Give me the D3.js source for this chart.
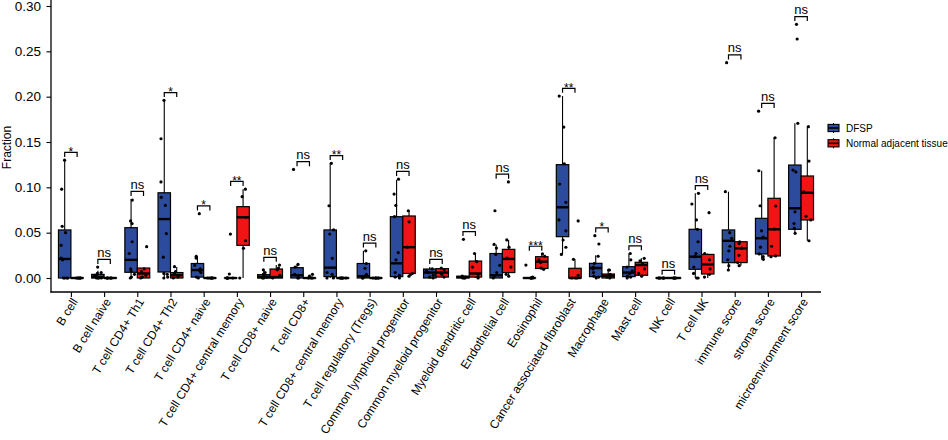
<!DOCTYPE html>
<html>
<head>
<meta charset="utf-8">
<script src="https://cdn.jsdelivr.net/npm/d3@7"></script>
<style>
  body { margin: 0; background: #fff; }
  text { font-family: "Liberation Sans", Arial, Helvetica, sans-serif; fill: #000; }
</style>
</head>
<body>
<svg id="svg" width="948" height="440"></svg>
<script>
// ---- data ----
const categories = ["B cell", "B cell naive", "T cell CD4+ Th1", "T cell CD4+ Th2", "T cell CD4+ naive",
  "T cell CD4+ central memory", "T cell CD8+ naive", "T cell CD8+", "T cell CD8+ central memory",
  "T cell regulatory (Tregs)", "Common lymphoid progenitor", "Common myeloid progenitor",
  "Myeloid dendritic cell", "Endothelial cell", "Eosinophil", "Cancer associated fibroblast",
  "Macrophage", "Mast cell", "NK cell", "T cell NK", "immune score", "stroma score", "microenvironment score"];

const groups = ["DFSP", "Normal adjacent tissue"];

// box stats per category: [whisker low, q1, median, q3, whisker high]
const dfspBox = [
  [0, 0, 0.021, 0.053, 0.130], [0, 0, 0.001, 0.004, 0.008], [0, 0.0063, 0.020, 0.0555, 0.087],
  [0, 0.0066, 0.065, 0.094, 0.196], [0, 0.001, 0.0088, 0.016, 0.024], [0, 0, 0, 0, 0],
  [0, 0, 0.001, 0.0037, 0.009], [0, 0, 0.003, 0.0114, 0.015], [0, 0.0015, 0.0114, 0.053, 0.1265],
  [0, 0, 0.002, 0.016, 0.030], [0, 0.0015, 0.0162, 0.0676, 0.108], [0, 0, 0.006, 0.0099, 0.012],
  [0, 0, 0.001, 0.002, 0.003], [0, 0, 0.003, 0.027, 0.037], [0, 0, 0, 0, 0],
  [0.026, 0.0456, 0.078, 0.125, 0.2007], [0, 0.0015, 0.011, 0.0162, 0.025], [0, 0.0015, 0.006, 0.0125, 0.027],
  [0, 0, 0, 0, 0], [0, 0.0096, 0.0235, 0.0537, 0.0934], [0.0088, 0.0169, 0.041, 0.053, 0.0952],
  [0.020, 0.0265, 0.0438, 0.0658, 0.1183], [0.0493, 0.0537, 0.0769, 0.1246, 0.1706]
];
const normalBox = [
  [0, 0, 0, 0, 0], [0, 0, 0, 0, 0], [0, 0, 0.005, 0.011, 0.011],
  [0, 0, 0.003, 0.006, 0.012], [0, 0, 0, 0, 0], [0, 0.036, 0.067, 0.0787, 0.098],
  [0, 0, 0.001, 0.0099, 0.0143], [0, 0, 0, 0, 0], [0, 0, 0, 0, 0],
  [0, 0, 0, 0, 0], [0.004, 0.005, 0.034, 0.0684, 0.0742], [0.001, 0.001, 0.006, 0.0103, 0.011],
  [0, 0.001, 0.005, 0.0187, 0.027], [0.002, 0.006, 0.021, 0.0316, 0.042], [0.0096, 0.0105, 0.018, 0.0235, 0.0265],
  [0, 0, 0, 0.0107, 0.0206], [0, 0, 0.0025, 0.0044, 0.0088], [0.002, 0.003, 0.0143, 0.0173, 0.0217],
  [0, 0, 0, 0, 0], [0, 0.0044, 0.015, 0.026, 0.027], [0.0136, 0.017, 0.0327, 0.040, 0.040],
  [0.0235, 0.0243, 0.0537, 0.0879, 0.1547], [0.0411, 0.064, 0.094, 0.1125, 0.1669]
];

// sample values (jittered dots)
const dfspPts = [
  [0.130, 0.098, 0.057, 0.050, 0.036, 0.022, 0.020, 0, 0, 0, 0],
  [0.012, 0.006, 0.005, 0.003, 0.002, 0.001, 0, 0, 0, 0],
  [0.086, 0.063, 0.060, 0.040, 0.027, 0.010, 0.008, 0.004, 0.001, 0],
  [0.196, 0.1536, 0.106, 0.089, 0.080, 0.049, 0.023, 0.005, 0.004, 0.001, 0],
  [0.071, 0.024, 0.022, 0.014, 0.010, 0.008, 0.006, 0.001, 0],
  [0.0485, 0.0044, 0, 0, 0, 0, 0, 0],
  [0.009, 0.006, 0.004, 0.002, 0.001, 0, 0],
  [0.1198, 0.015, 0.012, 0.004, 0.001, 0, 0],
  [0.1265, 0.0797, 0.053, 0.0485, 0.0217, 0.006, 0.004, 0.001, 0, 0],
  [0.030, 0.016, 0.0107, 0.004, 0.002, 0.001, 0, 0],
  [0.109, 0.0926, 0.080, 0.0676, 0.028, 0.020, 0.006, 0.003, 0.001, 0],
  [0.010, 0.008, 0.006, 0.003, 0.001, 0],
  [0.0427, 0.002, 0.001, 0.001, 0, 0, 0],
  [0.0742, 0.037, 0.033, 0.026, 0.014, 0.006, 0.002, 0],
  [0.0143, 0.001, 0, 0, 0, 0],
  [0.2007, 0.1665, 0.126, 0.1037, 0.0835, 0.064, 0.052, 0.0419, 0.0339, 0.026],
  [0.0467, 0.0375, 0.024, 0.016, 0.012, 0.010, 0.006, 0.002, 0.001, 0],
  [0.027, 0.020, 0.012, 0.008, 0.005, 0.002, 0.001, 0],
  [0, 0, 0, 0, 0, 0],
  [0.0934, 0.0816, 0.064, 0.0537, 0.040, 0.027, 0.0235, 0.012, 0.005, 0, 0],
  [0.2375, 0.0952, 0.050, 0.0438, 0.035, 0.030, 0.020, 0.0136, 0.0088],
  [0.184, 0.1183, 0.0797, 0.052, 0.045, 0.034, 0.0265, 0.0235, 0.0206],
  [0.2798, 0.2636, 0.1706, 0.119, 0.117, 0.073, 0.060, 0.055, 0.0493]
];
const normalPts = [
  [0, 0, 0, 0, 0, 0],
  [0, 0, 0, 0, 0, 0],
  [0.0345, 0.010, 0.007, 0.003, 0.001, 0],
  [0.0125, 0.007, 0.005, 0.003, 0.001, 0],
  [0, 0, 0, 0, 0, 0],
  [0.098, 0.0897, 0.067, 0.0411, 0.0327, 0],
  [0.0143, 0.011, 0.009, 0.003, 0],
  [0.004, 0.002, 0, 0, 0],
  [0, 0, 0, 0, 0, 0],
  [0, 0, 0, 0, 0, 0],
  [0.0742, 0.062, 0.034, 0.005, 0.004, 0.002],
  [0.011, 0.009, 0.006, 0.004, 0.001],
  [0.027, 0.018, 0.012, 0.004, 0.001, 0],
  [0.106, 0.042, 0.034, 0.022, 0.012, 0.004, 0.002],
  [0.0265, 0.024, 0.020, 0.017, 0.011, 0.0096],
  [0.063, 0.0206, 0.003, 0, 0, 0],
  [0.0088, 0.0088, 0.004, 0.002, 0.001, 0],
  [0.0217, 0.019, 0.016, 0.010, 0.005, 0.002],
  [0, 0, 0, 0, 0],
  [0.072, 0.027, 0.020, 0.010, 0.004, 0.001],
  [0.040, 0.038, 0.033, 0.025, 0.017, 0.0136],
  [0.1547, 0.0794, 0.054, 0.035, 0.0243, 0.0235],
  [0.1669, 0.129, 0.095, 0.068, 0.064, 0.0411]
];

const sigLabels = ["*", "ns", "ns", "*", "*", "**", "ns", "ns", "**", "ns", "ns", "ns",
  "ns", "ns", "***", "**", "*", "ns", "ns", "ns", "ns", "ns", "ns"];

const yTicks = [0, 0.05, 0.10, 0.15, 0.20, 0.25, 0.30];

// ---- layout ----
const colors = ["#2D4B9D", "#F01414"];
const plotLeft = 51, plotRight = 821, plotTop = 0, plotBottom = 292;

const svg = d3.select("#svg");

const x = d3.scalePoint().domain(categories).range([plotLeft, plotRight]).padding(0.6);
const y = d3.scaleLinear().domain([0, 0.30]).range([278, 6]);
const boxW = x.step() * 0.375;
const jitter = d3.randomUniform.source(d3.randomLcg(0.37))(-3.6, 3.6);

// boxes
const boxData = [];
categories.forEach((c, i) => {
  boxData.push({ c, g: 0, s: dfspBox[i], pts: dfspPts[i] });
  boxData.push({ c, g: 1, s: normalBox[i], pts: normalPts[i] });
});
const cx = d => x(d.c) + (d.g === 0 ? -boxW / 2 : boxW / 2);

const gBox = svg.append("g").selectAll("g").data(boxData).join("g");

gBox.append("line")
  .attr("x1", cx).attr("x2", cx)
  .attr("y1", d => y(d.s[0])).attr("y2", d => y(d.s[4]))
  .attr("stroke", "#000").attr("stroke-width", 1.1);

gBox.append("rect")
  .attr("x", d => cx(d) - boxW / 2)
  .attr("width", boxW)
  .attr("y", d => y(d.s[3]))
  .attr("height", d => Math.max(0.01, y(d.s[1]) - y(d.s[3])))
  .attr("fill", d => colors[d.g])
  .attr("stroke", "#000").attr("stroke-width", 1.2);

gBox.append("line")
  .attr("x1", d => cx(d) - boxW / 2).attr("x2", d => cx(d) + boxW / 2)
  .attr("y1", d => y(d.s[2])).attr("y2", d => y(d.s[2]))
  .attr("stroke", "#000").attr("stroke-width", 2.4);

// jittered dots
gBox.selectAll("circle")
  .data(d => d.pts.map(v => ({ v, x: cx(d) + jitter() })))
  .join("circle")
  .attr("cx", p => p.x)
  .attr("cy", p => y(p.v))
  .attr("r", 1.6)
  .attr("fill", "#000");

// significance brackets
const gSig = svg.append("g");
categories.forEach((c, i) => {
  const maxV = d3.max([...dfspPts[i], ...normalPts[i], dfspBox[i][4], normalBox[i][4]]);
  const by = y(maxV + 0.0085);
  const x0 = x(c) - boxW / 2, x1 = x(c) + boxW / 2;
  gSig.append("path")
    .attr("d", `M${x0},${by + 4.5}V${by}H${x1}V${by + 4.5}`)
    .attr("fill", "none").attr("stroke", "#000").attr("stroke-width", 1.2);
  const lab = sigLabels[i];
  gSig.append("text")
    .attr("x", x(c))
    .attr("y", lab === "ns" ? by - 2.5 : by + 3.5)
    .attr("text-anchor", "middle")
    .attr("font-size", lab === "ns" ? 13 : 12)
    .text(lab);
});

// y axis
const yAxis = svg.append("g")
  .attr("transform", `translate(${plotLeft},0)`)
  .call(d3.axisLeft(y).tickValues(yTicks).tickFormat(d3.format(".2f")).tickSize(4.5).tickSizeOuter(0));
yAxis.select(".domain").remove();
yAxis.selectAll(".tick line").attr("stroke-width", 1.1);
yAxis.selectAll(".tick text")
  .attr("x", -10)
  .attr("font-size", 13.5)
  .attr("font-family", "Liberation Sans, Arial, sans-serif");
svg.append("line")
  .attr("x1", plotLeft).attr("x2", plotLeft).attr("y1", plotTop).attr("y2", plotBottom + 0.6)
  .attr("stroke", "#000").attr("stroke-width", 1.3);

// x axis
const xAxis = svg.append("g")
  .attr("transform", `translate(0,${plotBottom})`)
  .call(d3.axisBottom(x).tickSize(5).tickSizeOuter(0).tickFormat(""));
xAxis.select(".domain").remove();
xAxis.selectAll(".tick line").attr("stroke-width", 1.1);
svg.append("line")
  .attr("x1", plotLeft - 0.6).attr("x2", plotRight).attr("y1", plotBottom).attr("y2", plotBottom)
  .attr("stroke", "#000").attr("stroke-width", 1.3);

svg.append("g").selectAll("text")
  .data(categories)
  .join("text")
  .attr("transform", d => `translate(${x(d)},${plotBottom + 5}) rotate(-58)`)
  .attr("text-anchor", "end")
  .attr("dy", "0.72em")
  .attr("font-size", 12)
  .text(d => d);

// y title
svg.append("text")
  .attr("transform", `translate(11,147.5) rotate(-90)`)
  .attr("text-anchor", "middle")
  .attr("font-size", 12)
  .text("Fraction");

// legend
const leg = svg.append("g").attr("transform", "translate(828,128)");
const li = leg.selectAll("g").data(groups).join("g")
  .attr("transform", (d, i) => `translate(0,${i * 15.3})`);
li.append("line").attr("x1", 5.5).attr("x2", 5.5).attr("y1", -5).attr("y2", 5)
  .attr("stroke", "#000").attr("stroke-width", 1);
li.append("rect").attr("x", 0).attr("y", -3.6).attr("width", 11).attr("height", 7.2)
  .attr("fill", (d, i) => colors[i]).attr("stroke", "#000").attr("stroke-width", 1.1);
li.append("line").attr("x1", 0).attr("x2", 11).attr("y1", 0).attr("y2", 0)
  .attr("stroke", "#000").attr("stroke-width", 1.6);
li.append("text").attr("x", 18).attr("dy", "0.35em").attr("font-size", 10).text(d => d);
</script>
</body>
</html>
